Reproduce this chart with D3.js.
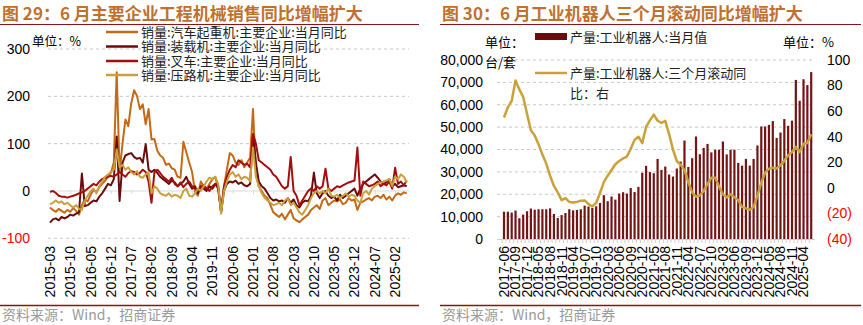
<!DOCTYPE html>
<html><head><meta charset="utf-8">
<script src="https://cdn.jsdelivr.net/npm/d3@7"></script>
<style>body{margin:0;background:#fff;} svg{display:block}</style>
</head><body>
<svg id="c" width="863" height="325"></svg>
<script>
// ---------- DATA: left chart (monthly YoY %, 2015-03 .. 2025-06) ----------
const leftStart = [2015, 3], leftEnd = [2025, 6];
const seriesNames = ["销量:汽车起重机:主要企业:当月同比","销量:装载机:主要企业:当月同比","销量:叉车:主要企业:当月同比","销量:压路机:主要企业:当月同比"];
const crane = [-35,-40,-44,-38,-42,-46,-40,-44,-36,-42,
  -50,-30,-18,-22,-8,2,-2,8,15,22,30,38,
  60,251,40,100,151,137,185,213,201,173,183,141,173,109,
  110,85,75,70,55,58,48,45,30,28,104,82,60,40,-2,-10,
  20,10,5,15,25,30,
  5,-45,10,45,80,75,60,55,65,50,60,70,
  173,40,10,0,-10,-15,-30,-45,-50,-55,-48,-60,
  -50,-40,-58,-62,-66,-60,-55,-50,-40,-35,-30,-38,
  -20,-15,-30,-25,-20,-22,-18,-28,-25,-15,-20,-18,
  -40,-25,-22,-18,-15,-20,-12,-10,-15,-8,-18,-12,
  -20,-10,-5,-8,-3,-5];
const loader = [-67,-60,-58,-62,-55,-58,-55,-50,-52,-48,-45,37,
  -32,-30,-25,-20,-22,-12,-5,5,15,12,25,115,
  -21,60,75,78,80,72,68,70,60,99,45,40,
  45,38,30,25,20,15,22,18,10,15,
  20,30,15,5,10,-5,10,5,0,10,5,15,
  10,-45,0,15,20,18,22,15,18,12,10,15,
  120,60,20,10,5,-5,-15,-20,-18,-22,-20,-25,
  -15,-25,-18,-30,-35,-25,-20,-22,-10,39,-5,-15,
  -5,0,-10,-15,-12,-20,-8,-15,-10,-5,0,5,
  -10,5,15,20,25,30,35,28,20,15,18,25,
  10,15,8,10,12,10];
const forklift = [-2,0,-4,-10,-12,-12,-14,-12,-10,-8,-5,-3,
  0,5,10,15,12,20,25,28,30,32,30,35,
  40,35,30,38,42,40,35,38,45,40,20,-25,
  40,45,38,30,25,20,28,15,10,18,
  8,15,20,10,5,0,8,12,5,0,10,15,
  5,-42,10,30,45,55,50,65,60,55,58,50,
  120,100,65,60,55,50,45,35,30,20,10,5,
  10,72,0,-10,-30,-20,-10,0,5,0,10,5,
  10,47,5,0,5,10,8,12,15,18,20,22,
  92,-10,20,15,10,12,15,20,10,15,12,20,
  5,49,15,20,12,22];
const roller = [-28,-25,-20,-25,-22,-28,-25,-30,-35,-30,-38,-40,
  -20,-10,0,5,-5,10,20,30,35,40,45,88,
  50,55,45,50,40,35,42,30,28,35,40,-5,
  10,5,-5,-8,-10,-5,-12,-8,-10,-15,
  0,5,-10,-12,-5,5,0,10,20,28,25,30,
  15,-48,0,20,35,40,30,35,25,30,28,20,
  92,30,10,-5,-15,-20,-25,-30,-28,-25,-30,-20,
  -15,-30,-25,-35,-45,-50,-40,-30,-15,-5,0,-5,
  0,-5,5,-10,-12,-8,-15,-10,-5,-12,-8,-10,
  -20,-25,-5,0,-8,5,10,15,18,20,22,25,
  10,30,25,35,30,18];
const leftYTicks = [300,200,100,0,-100];
const leftColors = ["#C46A16","#6B0C0C","#A50E0E","#C9A03C"];

// ---------- DATA: right chart (2017-06 .. 2025-06, Jan/Feb omitted) ----------
const robotOutput = [12200,12200,11800,12700,9300,10900,12400,13600,13100,13300,
  13300,13300,13700,11200,9400,10700,11600,13300,12800,13000,
  13300,14900,14500,13900,14600,16100,19600,16900,19000,17600,
  20300,20900,20300,22800,21000,23300,29600,32700,29900,29400,
  35800,30900,32400,28800,27900,31500,34600,44000,32200,36100,
  45800,37900,40700,42500,38700,39900,39900,43600,37800,39900,
  39900,34000,32800,35800,32800,35800,41800,50300,50300,51000,
  52700,45200,47600,53600,50600,52900,71100,61800,71400,68800,74600];
const robot3mYoY = [55,63,68,84,77,71,58,45,41,34,
  26,19,9.5,1.5,-3.5,-9.6,-8,-11,-11.4,-11,
  -10,-9.8,-12.7,-14.5,-11.8,-4,4.5,9.5,14,18.5,
  21,23,24.5,30.5,37.5,40,35,47.6,52.8,57.3,
  52.5,50.7,52.5,42,30,21,18,14,4.5,-3.5,
  -7,-6,-2.5,3,8,8,1,-5,-7.5,-5,
  -7.3,-9.6,-15,-16,-17.2,-15,-6,4,12,15,
  15.8,15.2,17.6,21.3,25.3,28,32,28,34.5,35,42];
const rightLeftTicks = [0,10000,20000,30000,40000,50000,60000,70000,80000];
const rightRightTicks = [-40,-20,0,20,40,60,80,100];

// ---------- categories ----------
const pad = n => String(n).padStart(2,"0");
const monthsL = [];
for (let y = leftStart[0], m = leftStart[1]; y < leftEnd[0] || (y === leftEnd[0] && m <= leftEnd[1]); ) {
  monthsL.push(`${y}-${pad(m)}`); m++; if (m > 12) { m = 1; y++; }
}
const monthsR = [];
for (let y = 2017, m = 6; y < 2025 || (y === 2025 && m <= 6); ) {
  if (m > 2) monthsR.push(`${y}-${pad(m)}`);
  m++; if (m > 12) { m = 1; y++; }
}

const NUM = "'Liberation Sans', Arial, 'Noto Sans CJK SC', sans-serif";
const CJK = "'Noto Sans CJK SC', 'Liberation Sans', sans-serif";
const TITLE_C = "#C0712F", RULE_C = "#8B1414", GRID_C = "#C8C8C8";
const svg = d3.select("#c");

// ---------- common frame ----------
function frame(x0, x1, title) {
  svg.append("text").attr("x", x0 + 2).attr("y", 20).attr("font-family", CJK)
    .attr("font-weight", "bold").attr("font-size", 17).attr("fill", TITLE_C).text(title);
  svg.append("line").attr("x1", x0).attr("x2", x1).attr("y1", 24.5).attr("y2", 24.5)
    .attr("stroke", RULE_C).attr("stroke-width", 1);
  svg.append("line").attr("x1", x0).attr("x2", x1).attr("y1", 305.5).attr("y2", 305.5)
    .attr("stroke", RULE_C).attr("stroke-width", 1.5);
  svg.append("text").attr("x", x0 + 2).attr("y", 320).attr("font-family", CJK)
    .attr("font-size", 14).attr("fill", "#9A9A9A").text("资料来源：Wind，招商证券");
}
frame(0, 419, "图 29：6 月主要企业工程机械销售同比增幅扩大");
frame(440, 861, "图 30：6 月工业机器人三个月滚动同比增幅扩大");

// ---------- left chart ----------
const xL = d3.scalePoint().domain(monthsL).range([50, 406.7]);
const yL = d3.scaleLinear().domain([-100, 300]).range([238.3, 49]);
const gL = svg.append("g");
leftYTicks.forEach(t => {
  if (t !== 0) gL.append("line").attr("x1", 48).attr("x2", 409).attr("y1", yL(t)).attr("y2", yL(t))
    .attr("stroke", GRID_C).attr("stroke-dasharray", "3,3");
  gL.append("text").attr("x", 30).attr("y", yL(t)).attr("dy", "0.35em").attr("text-anchor", "end")
    .attr("font-family", NUM).attr("font-size", 14).attr("fill", t < 0 ? "#FF0000" : "#000").text(t);
});
const xAxisL = d3.axisBottom(xL).tickValues(monthsL.filter((d, i) => i % 7 === 0)).tickSize(3).tickFormat("");
gL.append("g").attr("transform", `translate(0,${yL(0)})`).call(xAxisL)
  .call(g => { g.select(".domain").attr("stroke", "#D9D9D9").attr("d", "M48,0H409"); g.selectAll(".tick line").attr("stroke", "#D9D9D9"); });
monthsL.forEach((d, i) => {
  if (i % 7 !== 0) return;
  gL.append("text").attr("transform", `translate(${xL(d)},246) rotate(-90)`).attr("dy", "0.35em")
    .attr("text-anchor", "end").attr("font-family", NUM).attr("font-size", 14).attr("fill", "#000").text(d);
});
const lineL = d3.line().x((d, i) => xL(monthsL[i])).y(d => yL(d)).curve(d3.curveLinear);
[crane, loader, forklift, roller].forEach((s, k) => {
  gL.append("path").attr("d", lineL(s)).attr("fill", "none").attr("stroke", leftColors[k])
    .attr("stroke-width", 2).attr("stroke-linejoin", "round");
});
gL.append("text").attr("x", 32).attr("y", 46).attr("font-family", CJK).attr("font-size", 12.5).attr("fill", "#000").text("单位：%");
const legY = [32, 46.5, 61, 75];
seriesNames.forEach((n, k) => {
  gL.append("line").attr("x1", 106).attr("x2", 138).attr("y1", legY[k]).attr("y2", legY[k])
    .attr("stroke", leftColors[k]).attr("stroke-width", 2.5);
  gL.append("text").attr("x", 141).attr("y", legY[k]).attr("dy", "0.35em").attr("font-family", CJK)
    .attr("font-size", 13).attr("fill", "#222").text(n);
});

// ---------- right chart ----------
const xR = d3.scalePoint().domain(monthsR).range([504, 811.2]);
const yR1 = d3.scaleLinear().domain([0, 80000]).range([239, 60]);
const yR2 = d3.scaleLinear().domain([-40, 100]).range([239, 60]);
const gR = svg.append("g");
rightLeftTicks.forEach(t => {
  if (t !== 0) gR.append("line").attr("x1", 497).attr("x2", 815).attr("y1", yR1(t)).attr("y2", yR1(t))
    .attr("stroke", GRID_C).attr("stroke-dasharray", "3,3");
  gR.append("text").attr("x", 483).attr("y", yR1(t)).attr("dy", "0.35em").attr("text-anchor", "end")
    .attr("font-family", NUM).attr("font-size", 14).attr("fill", "#000").text(d3.format(",")(t));
});
rightRightTicks.forEach(t => {
  gR.append("text").attr("x", 827).attr("y", yR2(t)).attr("dy", "0.35em").attr("text-anchor", "start")
    .attr("font-family", NUM).attr("font-size", 14).attr("fill", t < 0 ? "#FF0000" : "#000")
    .text(t < 0 ? `(${-t})` : t);
});
const step = xR.step();
gR.append("line").attr("x1", 497).attr("x2", 815).attr("y1", 239.5).attr("y2", 239.5).attr("stroke", "#D0D0D0");
monthsR.forEach(d => {
  gR.append("line").attr("x1", xR(d) - step / 2).attr("x2", xR(d) - step / 2).attr("y1", 239.5).attr("y2", 243)
    .attr("stroke", "#D0D0D0");
});
gR.selectAll("rect.bar").data(robotOutput).enter().append("rect")
  .attr("x", (d, i) => xR(monthsR[i]) - 1.1).attr("width", 2.2)
  .attr("y", d => yR1(d)).attr("height", d => yR1(0) - yR1(d)).attr("fill", "#741414");
const lineR = d3.line().x((d, i) => xR(monthsR[i])).y(d => yR2(d));
gR.append("path").attr("d", lineR(robot3mYoY)).attr("fill", "none").attr("stroke", "#C9A23C")
  .attr("stroke-width", 2.5).attr("stroke-linejoin", "round");
monthsR.forEach((d, i) => {
  if (i % 3 !== 0) return;
  gR.append("text").attr("transform", `translate(${xR(d)},246) rotate(-90)`).attr("dy", "0.35em")
    .attr("text-anchor", "end").attr("font-family", NUM).attr("font-size", 14).attr("fill", "#000").text(d);
});
gR.append("text").attr("x", 485).attr("y", 42).attr("dy", "0.35em").attr("font-family", CJK).attr("font-size", 13).text("单位：");
gR.append("text").attr("x", 485).attr("y", 62).attr("dy", "0.35em").attr("font-family", CJK).attr("font-size", 13).text("台/套");
gR.append("text").attr("x", 783).attr("y", 42).attr("dy", "0.35em").attr("font-family", CJK).attr("font-size", 13).text("单位：%");
gR.append("rect").attr("x", 535).attr("y", 33).attr("width", 32).attr("height", 7).attr("fill", "#6B0C0C");
gR.append("text").attr("x", 570).attr("y", 37).attr("dy", "0.35em").attr("font-family", CJK).attr("font-size", 13).attr("fill", "#222").text("产量:工业机器人:当月值");
gR.append("line").attr("x1", 535).attr("x2", 567).attr("y1", 73).attr("y2", 73).attr("stroke", "#C9A23C").attr("stroke-width", 2.5);
gR.append("text").attr("x", 570).attr("y", 73).attr("dy", "0.35em").attr("font-family", CJK).attr("font-size", 13).attr("fill", "#222").text("产量:工业机器人:三个月滚动同");
gR.append("text").attr("x", 570).attr("y", 93).attr("dy", "0.35em").attr("font-family", CJK).attr("font-size", 13).attr("fill", "#222").text("比：右");
</script>
</body></html>
